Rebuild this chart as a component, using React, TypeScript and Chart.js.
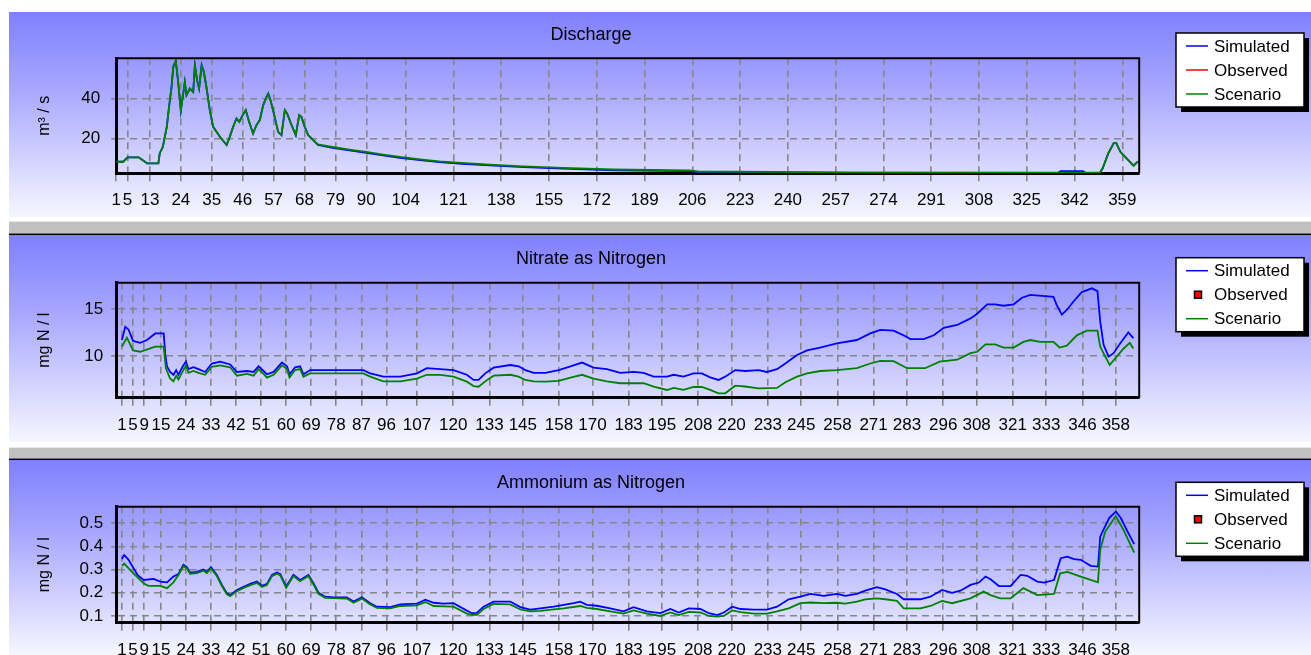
import React, { useEffect, useRef } from 'react';
import { Chart, registerables } from 'chart.js';

Chart.register(...registerables);
Chart.defaults.font.family = '"Liberation Sans", Arial, sans-serif';
Chart.defaults.color = '#000';

// ---------- Discharge ----------
const dischargeDays = [
  1, 3.5, 5, 9, 12, 16, 16.5, 17.6, 19, 19.8,
  20.7, 21.3, 22.2, 23, 24, 24.5, 25.4, 26, 27.2, 28.4,
  29, 29.8, 30.5, 31.4, 32.2, 33.1, 34.3, 35.5, 37.9, 40.3,
  41.4, 42.6, 43.8, 44.8, 46, 47.1, 48.3, 49.7, 50.9, 52.1,
  53.3, 54.5, 55.1, 55.9, 57.1, 58.6, 59.8, 61, 61.8, 63.4,
  64.9, 66.1, 66.9, 68.1, 69.3, 71.1, 72.8, 78, 84, 90,
  96, 102, 110, 116, 124, 134, 146, 160, 178, 205,
  208, 262, 336, 337, 345, 346, 351, 352, 354, 355.9,
  356.8, 358.3, 360, 363, 364.2, 365,
];
const dischargeSimulated = [
  8.3, 8.3, 10.5, 10.5, 7.5, 7.5, 12.6, 15.8, 25.8, 35.8,
  45.8, 55.8, 59, 49, 34, 39, 48.3, 41.7, 45, 43.3,
  56.7, 49, 45, 56.7, 53.3, 45.8, 34.2, 25.8, 20.8, 16.7,
  20.8, 25.8, 30, 28.3, 31.7, 34.2, 28.3, 22.5, 26.7, 29.2,
  36.7, 40.8, 42.5, 39.2, 32.5, 23.3, 21.7, 34.2, 32.5, 26.7,
  21.7, 31.7, 30.8, 25.8, 21.7, 19.2, 16.7, 15.3, 14.0, 12.8,
  11.5, 10.3, 9.0, 8.1, 7.3, 6.5, 5.6, 4.8, 4.0, 3.6,
  3.1, 2.7, 2.7, 3.6, 3.6, 2.7, 2.7, 5.0, 12.5, 17.5,
  17.8, 13.3, 10.8, 6.3, 8.0, 8.3,
];
const dischargeScenario = [
  8.3, 8.3, 10.5, 10.5, 7.5, 7.5, 12.6, 15.8, 25.8, 35.8,
  45.8, 55.8, 59, 49, 34, 39, 48.3, 41.7, 45, 43.3,
  56.7, 49, 45, 56.7, 53.3, 45.8, 34.2, 25.8, 20.8, 16.7,
  20.8, 25.8, 30, 28.3, 31.7, 34.2, 28.3, 22.5, 26.7, 29.2,
  36.7, 40.8, 42.5, 39.2, 32.5, 23.3, 21.7, 34.2, 32.5, 26.7,
  21.7, 31.7, 30.8, 25.8, 21.7, 19.2, 17.0, 15.7, 14.4, 13.2,
  11.9, 10.7, 9.4, 8.5, 7.7, 6.9, 6.0, 5.2, 4.4, 4.0,
  3.4, 3.0, 2.8, 2.8, 2.8, 2.8, 2.8, 5.0, 12.5, 17.5,
  17.8, 13.3, 10.8, 6.3, 8.0, 8.3,
];
const dischargeXTicks = [1, 5, 13, 24, 35, 46, 57, 68, 79, 90, 104, 121, 138, 155, 172, 189, 206, 223, 240, 257, 274, 291, 308, 325, 342, 359];
const dischargeYTicks = [20, 40];

// ---------- Nitrate ----------
const nitrateSimDays = [
  1, 2.2, 3.4, 5, 7.6, 10, 13, 16, 16.6, 17.2,
  18.3, 19.5, 20.5, 21.3, 22.9, 24, 24.9, 26.7, 28.5, 30.9,
  33.3, 36.3, 39.9, 42.3, 45.9, 48.3, 50.1, 51.9, 53.1, 55.5,
  58.5, 60.3, 61.2, 63.2, 65, 66.2, 68.6, 82.9, 87.7, 90.2,
  94.9, 101, 107, 110.5, 115.3, 120.1, 124.9, 127.3, 129.1, 131.5,
  134.5, 140.5, 143.5, 145.9, 148.9, 153.1, 157.9, 162.1, 166.3, 170.4,
  175.2, 180, 184.8, 188.4, 192, 196.8, 199.2, 202.7, 206.3, 209.3,
  212.3, 215.3, 217.7, 221.3, 224.9, 229.7, 232.7, 236.3, 239.3, 243.5,
  247.1, 251.8, 257.8, 265, 269.8, 273.4, 278.2, 281.8, 284.2, 289,
  292.6, 296.2, 301, 305.8, 308.2, 311.8, 314.7, 317.7, 321.3, 324.3,
  327.3, 335.6, 336.8, 338.6, 340.4, 342.8, 345.8, 349.4, 351.4, 352.4,
  353.6, 355.4, 357.2, 359.6, 362.5, 364.3,
];
const nitrateSimulated = [
  11.7, 13.1, 12.8, 11.6, 11.4, 11.7, 12.4, 12.4, 10.1, 8.9,
  8.3, 8.0, 8.5, 8.0, 8.9, 9.4, 8.6, 8.8, 8.6, 8.3,
  9.2, 9.4, 9.1, 8.3, 8.4, 8.3, 8.9, 8.4, 8.05, 8.3,
  9.3, 8.9, 8.05, 8.8, 8.9, 8.05, 8.5, 8.5, 8.5, 8.15,
  7.8, 7.8, 8.15, 8.7, 8.6, 8.5, 8.0, 7.45, 7.45, 8.15,
  8.76, 9.04, 8.9, 8.5, 8.2, 8.2, 8.5, 8.9, 9.3, 8.76,
  8.6, 8.2, 8.3, 8.2, 7.8, 7.8, 8.0, 7.8, 8.15, 8.15,
  7.73, 7.45, 7.8, 8.5, 8.4, 8.5, 8.3, 8.6, 9.2, 10.1,
  10.6, 10.9, 11.35, 11.7, 12.4, 12.77, 12.7, 12.2, 11.8, 11.8,
  12.2, 13.0, 13.3, 14.0, 14.5, 15.5, 15.5, 15.35, 15.5, 16.2,
  16.5, 16.3, 15.4, 14.4, 14.9, 15.8, 16.8, 17.2, 16.9, 13.65,
  11.2, 9.93, 10.3, 11.35, 12.5, 11.9,
];
const nitrateScnDays = [
  1, 2.8, 5, 7.6, 13, 16, 16.8, 18.3, 19.5, 20.5,
  21.3, 22.9, 24, 24.9, 26.7, 28.5, 30.9, 33.3, 36.3, 39.9,
  42.3, 45.9, 48.3, 50.1, 51.9, 53.1, 55.5, 58.5, 60.3, 61.2,
  63.2, 65, 66.2, 68.6, 82.9, 87.7, 90.2, 94.9, 101, 107,
  110.5, 115.3, 120.1, 124.9, 127.3, 129.1, 131.5, 134.5, 140.5, 143.5,
  145.9, 148.9, 153.1, 157.9, 162.1, 166.3, 170.4, 175.2, 180, 188.4,
  192, 196.8, 199.2, 202.7, 206.3, 209.3, 212.3, 215.3, 217.7, 221.3,
  224.9, 229.7, 236.3, 239.3, 243.5, 247.1, 251.8, 257.8, 265, 269.8,
  273.4, 278.2, 283, 289.5, 294.7, 301, 305.8, 308.2, 311.2, 314.7,
  317.7, 321.3, 324.8, 327.3, 330.8, 335.6, 337.8, 340.4, 344, 347.6,
  351.4, 352.4, 354.2, 355.8, 357.8, 360.8, 363, 364.3,
];
const nitrateScenario = [
  11.0, 11.95, 10.6, 10.45, 11.0, 11.0, 8.7, 7.6, 7.3, 7.9,
  7.5, 8.4, 9.0, 8.2, 8.4, 8.2, 8.0, 8.85, 9.0, 8.8,
  7.9, 8.1, 7.9, 8.6, 8.1, 7.7, 8.0, 9.0, 8.6, 7.7,
  8.5, 8.6, 7.8, 8.15, 8.15, 8.15, 7.8, 7.3, 7.3, 7.6,
  8.0, 8.0, 7.8, 7.27, 6.8, 6.73, 7.3, 7.9, 8.0, 7.8,
  7.45, 7.3, 7.27, 7.35, 7.7, 8.0, 7.6, 7.3, 7.1, 7.1,
  6.73, 6.38, 6.6, 6.4, 6.7, 6.7, 6.4, 6.03, 6.03, 6.84,
  6.75, 6.56, 6.6, 7.2, 7.8, 8.15, 8.4, 8.5, 8.7, 9.2,
  9.47, 9.45, 8.7, 8.7, 9.4, 9.6, 10.3, 10.45, 11.24, 11.24,
  10.9, 10.9, 11.5, 11.7, 11.5, 11.5, 10.9, 11.1, 12.2, 12.7,
  12.7, 11.0, 9.93, 9.04, 9.75, 10.8, 11.4, 10.8,
];
const nitrateXTicks = [1, 5, 9, 15, 24, 33, 42, 51, 60, 69, 78, 87, 96, 107, 120, 133, 145, 158, 170, 183, 195, 208, 220, 233, 245, 258, 271, 283, 296, 308, 321, 333, 346, 358];
const nitrateYTicks = [10, 15];

// ---------- Ammonium ----------
const ammoniumSimDays = [
  1, 1.8, 3.4, 5.2, 6.6, 8.8, 12.4, 14.8, 17.2, 19.5,
  21.3, 23.1, 24.3, 25.5, 27.9, 30.3, 31.5, 33, 35.1, 36.9,
  38.7, 39.9, 42.3, 44.7, 47.1, 49.5, 51.3, 53.1, 54.9, 56.7,
  57.9, 60, 62.6, 65, 68, 69.8, 71.6, 74, 77, 81.8,
  84.2, 87.2, 90.2, 92.6, 97.4, 101, 107, 110, 113, 116.5,
  120.1, 124.9, 126.7, 128.5, 130.9, 134.5, 140.5, 144.1, 147.7, 151.3,
  156.1, 159.7, 163.3, 165.6, 168, 171.6, 176.4, 181.2, 184.8, 189.6,
  194.4, 198, 201, 204.6, 208.8, 211.8, 214.8, 217.2, 220.2, 223.2,
  228, 232.7, 236.3, 240.5, 244.7, 248.3, 253.1, 257.8, 260.8, 265,
  268, 272.2, 275.2, 279.4, 281.8, 287.8, 291.4, 295.6, 299.2, 302.2,
  305.8, 308.8, 311.2, 313, 316, 320.2, 323.8, 326.2, 329.8, 332.2,
  335.8, 338.2, 340.6, 343, 345.4, 349, 351.6, 352.4, 353.8, 355.6,
  358, 359.8, 362.2, 364.6,
];
const ammoniumSimulated = [
  0.345, 0.363, 0.342, 0.306, 0.277, 0.255, 0.26, 0.248, 0.245, 0.27,
  0.281, 0.32, 0.31, 0.287, 0.29, 0.3, 0.29, 0.31, 0.277, 0.234,
  0.198, 0.19, 0.212, 0.226, 0.238, 0.248, 0.23, 0.238, 0.277, 0.287,
  0.28, 0.226, 0.277, 0.255, 0.277, 0.241, 0.2, 0.183, 0.18, 0.18,
  0.162, 0.18, 0.155, 0.14, 0.138, 0.15, 0.153, 0.17, 0.157, 0.153,
  0.155, 0.123, 0.112, 0.113, 0.14, 0.162, 0.162, 0.138, 0.127, 0.133,
  0.14, 0.148, 0.155, 0.162, 0.148, 0.144, 0.133, 0.12, 0.138, 0.12,
  0.112, 0.13, 0.115, 0.133, 0.13, 0.112, 0.104, 0.115, 0.14, 0.13,
  0.127, 0.127, 0.14, 0.172, 0.183, 0.195, 0.187, 0.195, 0.187, 0.195,
  0.209, 0.224, 0.215, 0.195, 0.172, 0.172, 0.183, 0.212, 0.2, 0.209,
  0.234, 0.244, 0.27, 0.258, 0.229, 0.229, 0.277, 0.273, 0.248, 0.244,
  0.255, 0.349, 0.356, 0.345, 0.342, 0.316, 0.313, 0.442, 0.478, 0.522,
  0.55, 0.522, 0.464, 0.41,
];
const ammoniumScnDays = [
  1, 1.8, 5.2, 8.8, 10.5, 14.8, 17.2, 19.5, 21.3, 23.1,
  24.3, 25.5, 27.9, 30.3, 31.5, 33, 35.1, 36.9, 38.7, 39.9,
  42.3, 44.7, 47.1, 49.5, 51.3, 53.1, 54.9, 56.7, 57.9, 60,
  62.6, 65, 68, 69.8, 71.6, 74, 81.8, 84.2, 87.2, 90.2,
  92.6, 97.4, 101, 107, 110, 113, 120.1, 124.9, 126.7, 128.5,
  130.9, 134.5, 140.5, 144.1, 147.7, 151.3, 156.1, 159.7, 165.6, 168,
  171.6, 176.4, 181.2, 184.8, 189.6, 194.4, 198, 201, 204.6, 208.8,
  211.8, 214.8, 217.2, 220.2, 223.2, 228, 232.7, 236.3, 240.5, 244.7,
  248.3, 253.1, 257.8, 260.8, 265, 268, 272.2, 275.2, 279.4, 281.8,
  287.8, 291.4, 295.6, 299.2, 305.8, 310.5, 313, 316.5, 320.2, 324.8,
  329.8, 335.8, 338, 340.6, 345.4, 351.6, 352.4, 354.2, 358, 360.8,
  364.6,
];
const ammoniumScenario = [
  0.316, 0.326, 0.283, 0.241, 0.23, 0.23, 0.22, 0.245, 0.277, 0.315,
  0.305, 0.282, 0.285, 0.295, 0.285, 0.305, 0.272, 0.229, 0.193, 0.185,
  0.207, 0.221, 0.233, 0.243, 0.225, 0.233, 0.272, 0.282, 0.275, 0.221,
  0.272, 0.25, 0.272, 0.236, 0.195, 0.178, 0.175, 0.157, 0.175, 0.15,
  0.135, 0.133, 0.143, 0.146, 0.16, 0.143, 0.14, 0.11, 0.105, 0.105,
  0.13, 0.152, 0.15, 0.128, 0.12, 0.122, 0.128, 0.133, 0.143, 0.135,
  0.13, 0.12, 0.11, 0.124, 0.11, 0.1, 0.115, 0.104, 0.118, 0.115,
  0.1, 0.097, 0.1, 0.124, 0.117, 0.11, 0.11, 0.12, 0.133, 0.155,
  0.158, 0.155, 0.157, 0.153, 0.162, 0.172, 0.176, 0.172, 0.165, 0.133,
  0.133, 0.143, 0.165, 0.155, 0.176, 0.205, 0.19, 0.176, 0.176, 0.22,
  0.19, 0.195, 0.284, 0.29, 0.27, 0.245, 0.385, 0.464, 0.53, 0.47,
  0.373,
];
const ammoniumXTicks = nitrateXTicks;
const ammoniumYTicks = [0.1, 0.2, 0.3, 0.4, 0.5];

const seriesNames = ['Simulated', 'Observed', 'Scenario'];
const observedValues: { x: number; y: number }[] = [];

const FONT = '"Liberation Sans", Arial, sans-serif';
const CANVAS_W = 1302;
const X_AXIS_H = 40;
const Y_AXIS_W = 107.2;
const CHART_RIGHT = 1130.2;

const toPoints = (xs: number[], ys: number[]) => xs.map((x, i) => ({ x, y: ys[i] }));

const decorPlugin = {
  id: 'decor',
  afterDatasetsDraw(chart: any) {
    const { ctx, chartArea: a } = chart;
    ctx.save();
    ctx.strokeStyle = '#000';
    ctx.lineWidth = 2;
    ctx.beginPath();
    ctx.moveTo(a.left, a.top);
    ctx.lineTo(a.right, a.top);
    ctx.lineTo(a.right, a.bottom);
    ctx.stroke();
    ctx.restore();
  },
  afterDraw(chart: any, _args: any, opts: any) {
    const { ctx, chartArea: a } = chart;
    ctx.save();
    ctx.fillStyle = '#000';
    ctx.textAlign = 'center';
    ctx.textBaseline = 'middle';
    ctx.font = `18px ${FONT}`;
    ctx.fillText(opts.title, 582, opts.titleY);

    ctx.save();
    ctx.translate(36, (a.top + a.bottom) / 2);
    ctx.rotate(-Math.PI / 2);
    ctx.font = `16px ${FONT}`;
    ctx.fillText(opts.yTitle, 0, 0);
    ctx.restore();

    const lx = 1167, ly = opts.legendY, lw = 128, lh = 74;
    ctx.fillStyle = '#000';
    ctx.fillRect(lx + 5, ly + 5, lw, lh);
    ctx.fillStyle = '#fff';
    ctx.fillRect(lx, ly, lw, lh);
    ctx.strokeStyle = '#000';
    ctx.lineWidth = 1.5;
    ctx.strokeRect(lx, ly, lw, lh);

    ctx.font = `17px ${FONT}`;
    ctx.textAlign = 'left';
    chart.data.datasets.forEach((ds: any, i: number) => {
      const cy = ly + 13 + i * 24;
      if (ds.label === 'Observed' && opts.observedSquare) {
        ctx.fillStyle = '#ff0000';
        ctx.fillRect(lx + 18.5, cy - 3.5, 7, 7);
        ctx.strokeStyle = '#000';
        ctx.lineWidth = 1.5;
        ctx.strokeRect(lx + 18.5, cy - 3.5, 7, 7);
      } else {
        ctx.strokeStyle = ds.borderColor;
        ctx.lineWidth = 1.5;
        ctx.beginPath();
        ctx.moveTo(lx + 10, cy);
        ctx.lineTo(lx + 32, cy);
        ctx.stroke();
      }
      ctx.fillStyle = '#000';
      ctx.fillText(ds.label, lx + 38, cy + 1);
    });
    ctx.restore();
  },
};

type PanelProps = {
  top: number;
  height: number;
  canvasH: number;
  chartTop: number;
  chartBottom: number;
  title: string;
  yTitle: string;
  titleY: number;
  legendY: number;
  observedSquare: boolean;
  xMin: number;
  xMax: number;
  yMin: number;
  yMax: number;
  xTicks: number[];
  yTicks: number[];
  yTickPad: number;
  xTickPad: number;
  yDecimals: number;
  simDays: number[];
  sim: number[];
  scnDays: number[];
  scn: number[];
};

function Panel(p: PanelProps) {
  const ref = useRef<HTMLCanvasElement>(null);
  useEffect(() => {
    const canvas = ref.current;
    if (!canvas) return;
    const gridCommon = { color: '#868686', lineWidth: 1.6, tickColor: '#808080', tickWidth: 1.5, drawTicks: true };
    const chart = new Chart(canvas, {
      type: 'line',
      data: {
        datasets: [
          { label: seriesNames[0], data: toPoints(p.simDays, p.sim), borderColor: '#0000ff', backgroundColor: '#0000ff', borderWidth: 1.8, pointRadius: 0, tension: 0, order: 1 },
          { label: seriesNames[1], data: observedValues, borderColor: '#ff0000', backgroundColor: '#ff0000', borderWidth: 1.5, pointRadius: 3, showLine: false, order: 2 },
          { label: seriesNames[2], data: toPoints(p.scnDays, p.scn), borderColor: '#008000', backgroundColor: '#008000', borderWidth: 1.8, pointRadius: 0, tension: 0, order: 0 },
        ],
      },
      options: {
        responsive: false,
        animation: false,
        devicePixelRatio: 1,
        events: [],
        layout: {
          padding: {
            left: 0,
            right: CANVAS_W - CHART_RIGHT,
            top: p.chartTop,
            bottom: p.canvasH - p.chartBottom - X_AXIS_H,
          },
        },
        plugins: {
          legend: { display: false },
          tooltip: { enabled: false },
          title: { display: false },
          decor: { title: p.title, yTitle: p.yTitle, titleY: p.titleY, legendY: p.legendY, observedSquare: p.observedSquare },
        } as any,
        scales: {
          x: {
            type: 'linear',
            min: p.xMin,
            max: p.xMax,
            afterBuildTicks: (s: any) => { s.ticks = p.xTicks.map((v) => ({ value: v })); },
            afterFit: (s: any) => { s.height = X_AXIS_H; },
            ticks: { autoSkip: false, maxRotation: 0, minRotation: 0, padding: p.xTickPad, font: { size: 17 }, color: '#000', callback: (v: any) => String(v) },
            grid: { ...gridCommon, tickLength: 8 },
            border: { display: true, color: '#000', width: 3, dash: [7, 5] },
          },
          y: {
            type: 'linear',
            min: p.yMin,
            max: p.yMax,
            afterBuildTicks: (s: any) => { s.ticks = p.yTicks.map((v) => ({ value: v })); },
            afterFit: (s: any) => { s.width = Y_AXIS_W; },
            ticks: { padding: p.yTickPad, font: { size: 17 }, color: '#000', callback: (v: any) => Number(v).toFixed(p.yDecimals) },
            grid: { ...gridCommon, tickLength: 5 },
            border: { display: true, color: '#000', width: 3, dash: [7, 5] },
          },
        },
      } as any,
      plugins: [decorPlugin as any],
    });
    return () => chart.destroy();
  }, []);
  return (
    <div
      style={{
        position: 'absolute',
        left: 9,
        top: p.top,
        width: CANVAS_W,
        height: p.height,
        overflow: 'hidden',
        background: 'linear-gradient(to bottom, #8080ff 0%, #a4a4ff 35%, #f6f6ff 100%)',
      }}
    >
      <canvas ref={ref} width={CANVAS_W} height={p.canvasH} style={{ display: 'block' }} />
    </div>
  );
}

function Separator({ top, height }: { top: number; height: number }) {
  return (
    <>
      <div style={{ position: 'absolute', left: 9, top, width: 1302, height, background: '#c0c0c0', borderTop: '1px solid #e8e8e8', boxSizing: 'border-box' }} />
      <div style={{ position: 'absolute', left: 9, top: top + height, width: 1302, height: 1, background: '#707070' }} />
      <div style={{ position: 'absolute', left: 9, top: top + height + 1, width: 1302, height: 1, background: '#000' }} />
    </>
  );
}

export default function App() {
  return (
    <div style={{ position: 'absolute', left: 0, top: 0, width: 1311, height: 655, overflow: 'hidden', background: '#fff' }}>
      <Panel
        top={12} height={205} canvasH={205} chartTop={46.3} chartBottom={161.3}
        title="Discharge" yTitle="m³ / s" titleY={23} legendY={21} observedSquare={false}
        xMin={1} xMax={365} yMin={2.5} yMax={60.2}
        xTicks={dischargeXTicks} yTicks={dischargeYTicks} yTickPad={11} xTickPad={9} yDecimals={0}
        simDays={dischargeDays} sim={dischargeSimulated} scnDays={dischargeDays} scn={dischargeScenario}
      />
      <Separator top={221} height={12} />
      <Panel
        top={235} height={207} canvasH={207} chartTop={47.7} chartBottom={162.7}
        title="Nitrate as Nitrogen" yTitle="mg N / l" titleY={24.3} legendY={22.7} observedSquare={true}
        xMin={-1.05} xMax={366.4} yMin={5.56} yMax={17.8}
        xTicks={nitrateXTicks} yTicks={nitrateYTicks} yTickPad={8} xTickPad={9} yDecimals={0}
        simDays={nitrateSimDays} sim={nitrateSimulated} scnDays={nitrateScnDays} scn={nitrateScenario}
      />
      <Separator top={447} height={11} />
      <Panel
        top={460} height={195} canvasH={207} chartTop={46.7} chartBottom={162.7}
        title="Ammonium as Nitrogen" yTitle="mg N / l" titleY={23.3} legendY={22.3} observedSquare={true}
        xMin={-1.05} xMax={366.4} yMin={0.071} yMax={0.571}
        xTicks={ammoniumXTicks} yTicks={ammoniumYTicks} yTickPad={8} xTickPad={9} yDecimals={1}
        simDays={ammoniumSimDays} sim={ammoniumSimulated} scnDays={ammoniumScnDays} scn={ammoniumScenario}
      />
    </div>
  );
}
